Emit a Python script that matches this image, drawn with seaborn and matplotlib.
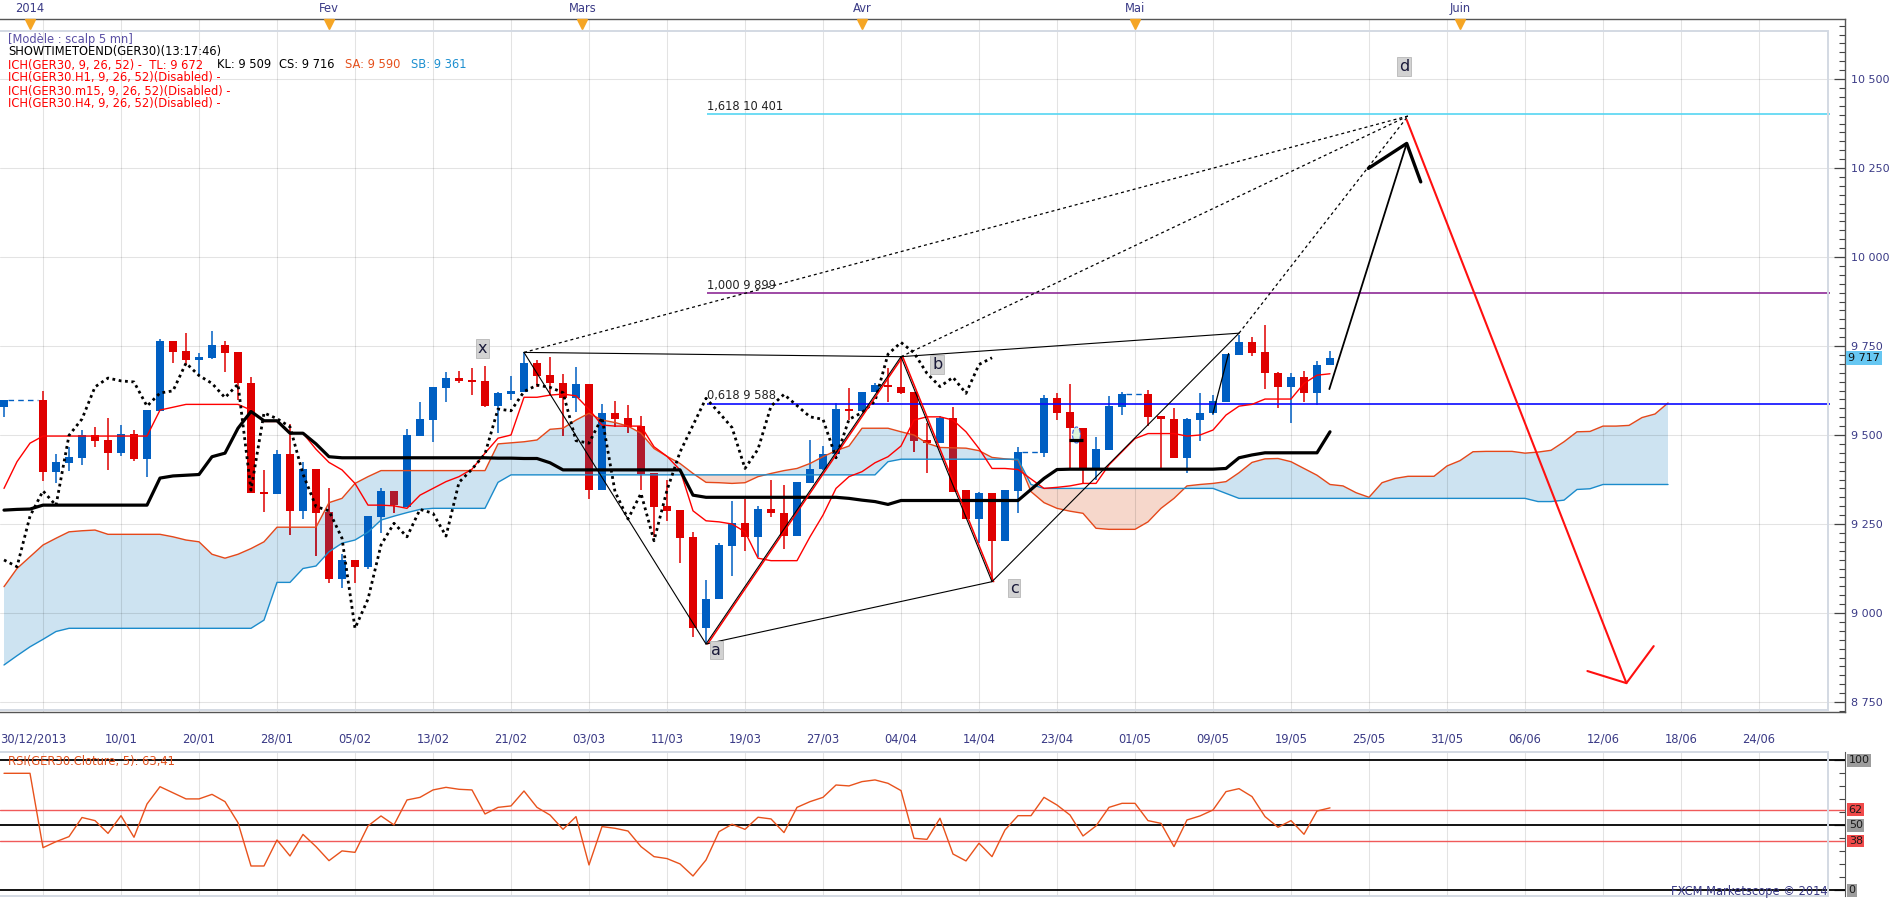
import matplotlib
matplotlib.use("Agg")
import matplotlib.pyplot as plt
import matplotlib.transforms as mtransforms
from matplotlib.patches import Rectangle, Ellipse
from matplotlib.path import Path
from matplotlib.ticker import FuncFormatter, MultipleLocator
import numpy as np
import pandas as pd
import seaborn as sns

# ---------------- data (GER30 daily) ----------------
# bar index: 0 = 30/12/2013, one step per trading bar; bars -2,-1,76,84 are holidays
bar_x = [-3] + list(range(0, 76)) + list(range(77, 84)) + list(range(85, 100))

opens = [9578, 9598, 9397, 9422, 9436, 9499, 9486, 9450, 9503, 9433,
         9568, 9764, 9736, 9712, 9717, 9753, 9733, 9647, 9339, 9335,
         9447, 9287, 9405, 9284, 9096, 9149, 9130, 9271, 9343, 9299,
         9497, 9543, 9633, 9660, 9654, 9652, 9581, 9616, 9622, 9702,
         9669, 9646, 9605, 9643, 9345, 9562, 9547, 9525, 9392, 9301,
         9289, 9214, 8957, 9038, 9188, 9252, 9214, 9291, 9282, 9216,
         9366, 9404, 9446, 9573, 9568, 9620, 9640, 9634, 9622, 9486,
         9477, 9549, 9346, 9264, 9338, 9203, 9343, 9450, 9603, 9564,
         9521, 9406, 9458, 9579, 9614, 9553, 9544, 9436, 9542, 9563,
         9593, 9725, 9760, 9733, 9673, 9636, 9662, 9617, 9698]
highs = [9598, 9624, 9447, 9467, 9514, 9523, 9548, 9527, 9514, 9570,
         9770, 9764, 9787, 9731, 9792, 9764, 9733, 9664, 9402, 9458,
         9531, 9425, 9405, 9350, 9165, 9149, 9272, 9350, 9343, 9516,
         9594, 9635, 9678, 9681, 9689, 9694, 9622, 9667, 9732, 9711,
         9720, 9671, 9691, 9643, 9587, 9596, 9584, 9553, 9392, 9374,
         9289, 9228, 9093, 9196, 9315, 9320, 9301, 9375, 9360, 9367,
         9486, 9469, 9591, 9631, 9622, 9645, 9687, 9720, 9622, 9533,
         9552, 9578, 9346, 9341, 9338, 9345, 9467, 9612, 9617, 9643,
         9521, 9493, 9609, 9620, 9626, 9553, 9577, 9549, 9617, 9612,
         9727, 9781, 9774, 9809, 9678, 9673, 9680, 9708, 9736]
lows = [9551, 9372, 9366, 9400, 9416, 9467, 9402, 9441, 9428, 9383,
        9568, 9703, 9697, 9669, 9713, 9678, 9598, 9338, 9285, 9335,
        9219, 9265, 9160, 9083, 9071, 9083, 9125, 9224, 9282, 9299,
        9497, 9481, 9594, 9647, 9612, 9580, 9505, 9598, 9622, 9636,
        9612, 9498, 9566, 9320, 9345, 9523, 9505, 9345, 9214, 9259,
        9141, 8932, 8915, 9038, 9104, 9175, 9158, 9271, 9179, 9216,
        9364, 9402, 9446, 9542, 9568, 9620, 9594, 9615, 9453, 9394,
        9477, 9341, 9264, 9198, 9088, 9203, 9280, 9437, 9542, 9406,
        9364, 9373, 9458, 9556, 9525, 9406, 9436, 9392, 9484, 9556,
        9593, 9725, 9723, 9628, 9575, 9533, 9592, 9584, 9698]
closes = [9598, 9397, 9424, 9438, 9499, 9484, 9450, 9503, 9433, 9570,
          9764, 9734, 9712, 9718, 9753, 9731, 9645, 9338, 9335, 9447,
          9287, 9405, 9282, 9096, 9149, 9130, 9272, 9343, 9302, 9499,
          9545, 9635, 9660, 9652, 9649, 9581, 9618, 9624, 9702, 9667,
          9645, 9605, 9643, 9345, 9562, 9546, 9523, 9390, 9299, 9287,
          9210, 8957, 9039, 9191, 9252, 9214, 9291, 9280, 9216, 9367,
          9404, 9447, 9573, 9568, 9622, 9640, 9634, 9619, 9484, 9477,
          9549, 9341, 9264, 9336, 9203, 9345, 9452, 9603, 9563, 9521,
          9406, 9460, 9581, 9614, 9551, 9544, 9436, 9544, 9563, 9595,
          9727, 9760, 9731, 9673, 9636, 9662, 9617, 9698, 9717]

# ichimoku lines, one value per bar from -3 to 99 (nan = not drawn at that bar)
line_x = list(range(-3, 100))
tenkan = [9350, 9425, 9477, 9497, 9497, 9497, 9497, 9497, 9497, 9497,
          9497, 9497, 9570, 9578, 9586, 9586, 9586, 9586, 9586, 9570,
          9538, 9538, 9505, 9505, 9460, 9423, 9402, 9364, 9303, 9303,
          9301, 9294, 9331, 9350, 9369, 9383, 9404, 9449, 9491, 9500,
          9606, 9606, 9612, 9615, 9610, 9572, 9528, 9525, 9525, 9525,
          9467, 9440, 9402, 9287, 9259, 9256, 9250, 9228, 9154, 9147,
          9147, 9147, 9214, 9275, 9350, 9383, 9397, 9422, 9439, 9469,
          9542, 9551, 9551, 9542, 9509, 9462, 9406, 9406, 9403, np.nan,
          9350, 9353, 9357, 9364, 9364, 9416, 9453, 9490, 9504, 9504,
          9504, 9497, 9500, 9514, 9556, 9581, 9586, 9601, 9601, 9601,
          9645, 9668, 9672]
kijun = [9289, 9291, 9292, 9303, 9303, 9303, 9303, 9303, 9303, 9303,
         9303, 9303, 9379, 9385, 9387, 9389, 9439, 9449, 9519, 9566,
         9540, 9540, 9505, 9505, 9475, 9439, 9436, 9436, 9436, 9436,
         9436, 9436, 9436, 9436, 9436, 9436, 9436, 9436, 9435, 9435,
         9434, 9434, 9422, 9402, 9402, 9402, 9402, 9402, 9402, 9402,
         9402, 9402, 9402, 9331, 9325, 9325, 9325, 9325, 9325, 9325,
         9325, 9325, 9325, 9325, 9325, 9322, 9317, 9313, 9305, 9316,
         9316, 9316, 9316, 9316, 9316, 9316, 9316, 9316, 9316, np.nan,
         9378, 9403, 9404, 9404, 9404, 9404, 9404, 9404, 9404, 9404,
         9404, 9404, 9404, 9404, 9406, 9436, 9444, 9450, 9450, 9450,
         9450, 9450, 9509]

# cloud spans, bars -3 to 125
cloud_x = list(range(-3, 126))
span_a = [9074, 9125, 9158, 9191, 9210, 9228, 9231, 9233, 9221, 9221,
          9221, 9221, 9221, 9214, 9205, 9200, 9165, 9154, 9165, 9181,
          9200, 9241, 9241, 9241, 9241, 9310, 9322, 9364, 9383, 9400,
          9400, 9400, 9400, 9400, 9400, 9400, 9400, 9400, 9475, 9478,
          9481, 9486, 9516, 9519, 9542, 9561, 9542, 9535, 9525, 9505,
          9462, 9440, 9420, 9392, 9367, 9366, 9364, 9366, 9383, 9392,
          9400, 9406, 9420, 9439, 9456, 9469, 9519, 9519, 9519, 9509,
          9500, 9477, 9465, 9464, 9463, 9456, 9437, 9433, 9430, 9341,
          9310, 9294, 9286, 9280, 9238, 9235, 9235, 9235, 9256, 9294,
          9322, 9357, 9361, 9364, 9369, 9394, 9423, 9433, 9434, 9425,
          9406, 9387, 9361, 9357, 9338, 9325, 9366, 9378, 9384, 9384,
          9384, 9413, 9428, 9453, 9454, 9454, 9454, 9449, 9452, 9457,
          9481, 9509, 9510, 9525, 9525, 9527, 9549, 9559, 9590]
span_b = [8854, 8880, 8905, 8926, 8948, 8957, 8957, 8957, 8957, 8957,
          8957, 8957, 8957, 8957, 8957, 8957, 8957, 8957, 8957, 8957,
          8980, 9086, 9086, 9125, 9132, 9172, 9196, 9205, 9227, 9261,
          9272, 9282, 9291, 9294, 9294, 9294, 9294, 9294, 9367, 9388,
          9388, 9388, 9388, 9388, 9388, 9388, 9388, 9388, 9388, 9388,
          9388, 9388, 9388, 9388, 9388, 9388, 9388, 9388, 9388, 9388,
          9388, 9388, 9388, 9388, 9388, 9388, 9388, 9388, 9425, 9432,
          9432, 9432, 9432, 9432, 9432, 9432, 9432, 9432, 9432, 9361,
          9350, 9350, 9350, 9350, 9350, 9350, 9350, 9350, 9350, 9350,
          9350, 9350, 9350, 9350, 9336, 9322, 9322, 9322, 9322, 9322,
          9322, 9322, 9322, 9322, 9322, 9322, 9322, 9322, 9322, 9322,
          9322, 9322, 9322, 9322, 9322, 9322, 9322, 9322, 9313, 9313,
          9317, 9347, 9349, 9361, 9361, 9361, 9361, 9361, 9361]

rsi = [90, 90, 90, 32.8, 37.4, 41.3, 56.0, 53.6, 43.8, 57.4,
       40.8, 66.4, 79.7, 75.0, 70.3, 70.3, 73.8, 68.2, 52.0, 18.7,
       18.7, 38.7, 26.4, 43.0, 33.6, 22.8, 30.3, 29.2, 49.5, 57.2,
       50.3, 69.5, 71.5, 77.2, 79.2, 77.7, 77.2, 58.7, 63.8, 64.9,
       76.4, 63.8, 57.9, 46.9, 56.7, 19.5, 49.0, 47.7, 45.6, 33.6,
       25.9, 24.4, 20.3, 11.0, 23.3, 45.1, 50.8, 46.9, 56.2, 54.9,
       44.4, 63.8, 68.2, 71.5, 81.0, 80.3, 83.6, 84.9, 82.3, 76.7,
       40.0, 39.2, 55.4, 27.9, 22.6, 36.2, 25.9, 46.4, 57.4, 57.4,
       71.5, 65.6, 57.9, 41.8, 49.5, 63.8, 66.9, 66.9, 53.6, 51.5,
       33.6, 54.1, 57.2, 61.8, 75.9, 78.2, 72.1, 56.7, 48.5, 53.6,
       43.1, 61.0, 63.41]

date_labels = ['30/12/2013', '10/01', '20/01', '28/01', '05/02', '13/02', '21/02',
               '03/03', '11/03', '19/03', '27/03', '04/04', '14/04', '23/04',
               '01/05', '09/05', '19/05', '25/05', '31/05', '06/06', '12/06',
               '18/06', '24/06']
month_labels = ['2014', 'Fev', 'Mars', 'Avr', 'Mai', 'Juin']
month_pos = [-1, 22, 41.5, 63, 84, 109]

# harmonic pattern points (bar, price)
pt_x, pt_a, pt_b, pt_c = (37, 9732), (51, 8913), (66, 9720), (73, 9088)
pt_e, pt_d = (92, 9786), (105.0, 10396)
fib_levels = [10401, 9899, 9588]
fib_names = ['1,618 10 401', '1,000 9 899', '0,618 9 588']
fib_colors = ['#55d6f2', '#8e2a96', '#0a0aff']

# projected moves drawn on the chart (bar, price)
black_shaft = [(98.95, 9629), (104.9, 10319)]
black_head = [(101.95, 10249), (104.9, 10319), (105.98, 10211)]
red_shaft = [(104.9, 10385), (121.8, 8803)]
red_head = [(118.8, 8837), (121.8, 8803), (123.9, 8907)]

last_price = 9717
rsi_levels = [100, 62, 50, 38, 0]

# ---------------- figure ----------------
sns.set_style('white')
plt.rcParams['font.family'] = ['DejaVu Sans']
W, H = 1903, 900
fig = plt.figure(figsize=(W / 100, H / 100), dpi=100)


def rect(x0, y0, x1, y1):
    return [x0 / W, 1 - y1 / H, (x1 - x0) / W, (y1 - y0) / H]


def line(axis, xs, ys, **kw):
    d = pd.DataFrame({'x': xs, 'y': ys}).dropna()
    sns.lineplot(data=d, x='x', y='y', ax=axis, estimator=None, sort=False, **kw)
    axis.set_xlabel('')
    axis.set_ylabel('')


ax = fig.add_axes(rect(0, 19, 1845, 712))
ax_top = fig.add_axes(rect(0, 0, 1845, 19))
ax_rsi = fig.add_axes(rect(0, 752, 1845, 896))
XL = (-43 / 13, (1845 - 43) / 13)
navy = '#3a3a86'
fs = 8.3
grid_kw = dict(color='black', alpha=0.11, lw=0.75)

# cloud
cx, sa, sb = np.array(cloud_x), np.array(span_a, float), np.array(span_b, float)
blue_cloud = ax.fill_between(cx, sa, sb, where=sa >= sb, interpolate=True,
                             color='#cde3f1', lw=0, zorder=1)
ax.fill_between(cx, sa, sb, where=sa < sb, interpolate=True, color='#f6d7cb', lw=0, zorder=1)

# candles
bx = np.array(bar_x, float)
o, h, l, c = (np.array(v, float) for v in (opens, highs, lows, closes))
up = c >= o
cols = np.where(up, '#005fc2', '#df0000')
body_lo = np.minimum(o, c)
body_h = np.maximum(np.abs(c - o), 3)
ax.vlines(bx, l, h, colors=cols, lw=1.1, zorder=3)
ax.bar(bx, body_h, bottom=body_lo, width=0.62, color=cols, lw=0, zorder=3)
# red candles look darker where they sit inside the blue cloud
clip = Path.make_compound_path(*blue_cloud.get_paths())
dn = ~up
dark_w = ax.vlines(bx[dn], l[dn], h[dn], colors='#b01b2d', lw=1.1, zorder=3.1)
dark_w.set_clip_path(clip, ax.transData)
for p in ax.bar(bx[dn], body_h[dn], bottom=body_lo[dn], width=0.62, color='#b01b2d', lw=0, zorder=3.2):
    p.set_clip_path(clip, ax.transData)

# dashed connectors over the missing bars
for k in range(1, len(bar_x)):
    if bar_x[k] - bar_x[k - 1] > 1:
        ax.hlines(closes[k - 1], bar_x[k - 1] + 0.3, bar_x[k] - 0.4, colors='#005fc2',
                  linestyles=(0, (4, 3)), lw=1, zorder=3)

# ichimoku lines
line(ax, cloud_x, span_a, color='#e5481a', lw=1.0, zorder=4)
line(ax, cloud_x, span_b, color='#1b8bcb', lw=1.0, zorder=4)
line(ax, line_x, tenkan, color='#ff0000', lw=1.0, zorder=4.2)
line(ax, line_x, kijun, color='black', lw=2.3, zorder=4.3)
close_at = dict(zip(bar_x, closes))
chik_x = [j for j in range(-3, 74) if j + 26 in close_at]
chik_y = [close_at[j + 26] for j in chik_x]   # chikou span = close drawn 26 bars back
line(ax, chik_x, chik_y, color='black', lw=2.0, linestyle=(0, (1, 1.3)), zorder=4.5)

# marker near 23/04
ax.add_patch(Ellipse((79.5, 9500), 0.6, 45, fc='#dcf5dc', ec='#3a62d8', ls='--', lw=0.8, zorder=5))
ax.hlines(9486, 78.9, 80.0, colors='black', lw=2.3, zorder=5)
ax.plot([90, 91.2], [9561, 9729], color='black', lw=0.9, zorder=5)

# fibonacci levels
for lev, name, col in zip(fib_levels, fib_names, fib_colors):
    ax.hlines(lev, 51.1, 137.5, colors=col, lw=1.2, zorder=4)
    ax.text(51.1, lev + 4, name, fontsize=fs, color='#222222', ha='left', va='bottom', zorder=6)

# pattern lines
def seg(p, q, **kw):
    ax.plot([p[0], q[0]], [p[1], q[1]], **kw)

thin = dict(color='black', lw=0.8, zorder=5)
for p, q in [(pt_x, pt_a), (pt_x, pt_b), (pt_a, pt_c), (pt_b, pt_e), (pt_c, pt_e)]:
    seg(p, q, **thin)
for p, q in [(pt_a, pt_b), (pt_b, pt_c)]:
    seg((p[0] + 0.13, p[1]), (q[0] + 0.13, q[1]), color='#ff0000', lw=1.1, zorder=4.8)
    seg(p, q, **thin)
for p in (pt_x, pt_b, pt_e):
    seg(p, pt_d, color='black', lw=0.9, linestyle=(0, (2.4, 2.4)), zorder=5)

# projected path arrows
ax.plot(*zip(*black_shaft), color='black', lw=1.3, zorder=6)
ax.plot(*zip(*black_head), color='black', lw=2.4, zorder=6)
ax.plot(*zip(*red_shaft), color='#ff1010', lw=1.5, zorder=6)
ax.plot(*zip(*red_head), color='#ff1010', lw=1.5, zorder=6)

# point labels
box = dict(boxstyle='square,pad=0.12', fc='#d2d2d2', ec='#b8b8b8', lw=0.6)
for s, (xx, yy) in zip('xabcd', [(33.8, 9742), (51.8, 8896), (68.8, 9697), (74.7, 9070), (104.7, 10534)]):
    ax.text(xx, yy, s, fontsize=11.5, color='#1a1a3a', ha='center', va='center', bbox=box, zorder=7)

# axes styling - main
ax.set_xlim(*XL)
ax.set_ylim(8750 + (702 - 712) / 0.356, 8750 + (702 - 19) / 0.356)
ax.set_xticks(range(0, 133, 6))
ax.set_xticklabels(date_labels)
ax.xaxis.set_minor_locator(MultipleLocator(0.75))
ax.set_yticks(range(8750, 10501, 250))
ax.yaxis.set_minor_locator(MultipleLocator(25))
ax.yaxis.set_major_formatter(FuncFormatter(lambda v, p: f"{v:,.0f}".replace(',', ' ')))
ax.yaxis.tick_right()
ax.tick_params(axis='y', which='major', direction='in', length=8, pad=4, labelsize=8,
               labelcolor=navy, color='#444444', width=0.9)
ax.tick_params(axis='y', which='minor', direction='in', length=4, color='#444444', width=0.8)
ax.tick_params(axis='x', which='major', direction='out', length=9.5, pad=5, labelsize=fs,
               labelcolor=navy, color='#444444', width=0.9)
ax.tick_params(axis='x', which='minor', direction='out', length=3, color='#444444', width=0.8)
lab0 = ax.get_xticklabels()[0]
lab0.set_transform(lab0.get_transform() + mtransforms.ScaledTranslation(-0.1, 0, fig.dpi_scale_trans))
ax.set_axisbelow('line')
ax.grid(True, which='major', **grid_kw)
ax.spines['left'].set_visible(False)
for side in ('right', 'bottom', 'top'):
    ax.spines[side].set_color('#555555')
    ax.spines[side].set_linewidth(1.0)

# current price flag
bt = mtransforms.blended_transform_factory(ax.transAxes, ax.transData)
ax.text(1.0015, last_price, f"{last_price:,}".replace(',', ' '), transform=bt, fontsize=8,
        color='#111111', ha='left', va='center', clip_on=False, zorder=8,
        bbox=dict(boxstyle='square,pad=0.18', fc='#66c7f2', ec='none'))

# month triangles and top strip
tt = mtransforms.blended_transform_factory(ax.transData, ax.transAxes)
ax.plot(month_pos, [(712 - 23.5) / 693] * len(month_pos), 'v', color='#f5a524', ms=6.5,
        transform=tt, clip_on=False, zorder=9)
ax_top.set_xlim(*XL)
ax_top.set_ylim(0, 1)
for sp in ax_top.spines.values():
    sp.set_visible(False)
ax_top.set_yticks([])
ax_top.set_xticks(np.arange(-3.3, 139, 2.885))
ax_top.tick_params(axis='x', direction='in', length=3, color='#444444', labelbottom=False, width=0.8)
ax_top.set_facecolor('none')
for s, m in zip(month_labels, month_pos):
    ax_top.text(m, 0.53, s, fontsize=fs, color=navy, ha='center', va='center')

# RSI panel
line(ax_rsi, line_x, rsi, color='#e8521c', lw=1.0, zorder=4)
for lev in rsi_levels:
    ax_rsi.axhline(lev, color='#f05a5a' if lev in (62, 38) else 'black',
                   lw=1.0 if lev in (62, 38) else 1.3, zorder=3)
ax_rsi.set_xlim(*XL)
ax_rsi.set_ylim((890.3 - 896) / 1.3, (890.3 - 752) / 1.3)
ax_rsi.set_xticks(range(0, 133, 6))
ax_rsi.tick_params(axis='x', bottom=False, labelbottom=False)
ax_rsi.set_axisbelow('line')
ax_rsi.grid(True, axis='x', **grid_kw)
ax_rsi.yaxis.tick_right()
ax_rsi.set_yticks([0, 50, 100])
ax_rsi.yaxis.set_minor_locator(MultipleLocator(10))
ax_rsi.tick_params(axis='y', which='major', direction='in', length=8, labelright=False,
                   color='#444444', width=0.9)
ax_rsi.tick_params(axis='y', which='minor', direction='in', length=4, color='#444444', width=0.8)
for side in ('left', 'top', 'bottom'):
    ax_rsi.spines[side].set_visible(False)
ax_rsi.spines['right'].set_color('#555555')
rt = mtransforms.blended_transform_factory(ax_rsi.transAxes, ax_rsi.transData)
for lev in rsi_levels:
    fc = '#f04a4a' if lev in (62, 38) else '#9c9c9c'
    ax_rsi.text(1.002, lev, str(lev), transform=rt, fontsize=8, color='#1a1a1a', ha='left',
                va='center', clip_on=False, zorder=8,
                bbox=dict(boxstyle='square,pad=0.12', fc=fc, ec='none'))
ax_rsi.text(8 / 1845, (890.3 - 762) / 1.3, 'RSI(GER30.Cloture, 5): 63,41', fontsize=fs,
            color='#e0501c', ha='left', va='center', transform=rt, zorder=8)

# inner light frames
for y0, y1 in ((31, 710), (752, 896)):
    fig.add_artist(Rectangle((-0.001, 1 - y1 / H), 1830 / W, (y1 - y0) / H, transform=fig.transFigure,
                             fill=False, ec='#d3d9e3', lw=1.4))

# header text
def ftext(x, y, s, **kw):
    fig.text(x / W, 1 - y / H, s, fontsize=fs, va='center', ha='left', **kw)

ftext(8, 39, '[Modèle : scalp 5 mn]', color='#5a4fa4')
ftext(8, 52, 'SHOWTIMETOEND(GER30)(13:17:46)', color='black')
ftext(8, 65, 'ICH(GER30, 9, 26, 52) -  TL: 9 672', color='#ff0000')
ftext(217, 65, 'KL: 9 509', color='black')
ftext(279, 65, 'CS: 9 716', color='black')
ftext(345, 65, 'SA: 9 590', color='#e5501c')
ftext(411, 65, 'SB: 9 361', color='#1e90d0')
ftext(8, 78, 'ICH(GER30.H1, 9, 26, 52)(Disabled) -', color='#ff0000')
ftext(8, 91, 'ICH(GER30.m15, 9, 26, 52)(Disabled) -', color='#ff0000')
ftext(8, 104, 'ICH(GER30.H4, 9, 26, 52)(Disabled) -', color='#ff0000')
fig.text(1828 / W, 1 - 891 / H, 'FXCM Marketscope © 2014', fontsize=fs, color=navy,
         ha='right', va='center')

fig.savefig('out.png', dpi=100)
